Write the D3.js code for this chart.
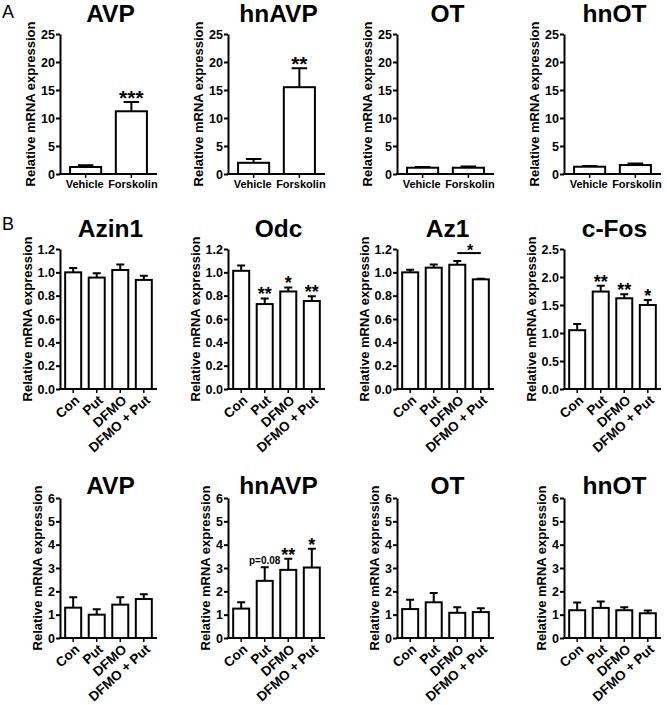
<!DOCTYPE html>
<html>
<head>
<meta charset="utf-8">
<script src="https://cdn.jsdelivr.net/npm/d3@7"></script>
<style>
body { margin: 0; background: #fff; }
svg text { font-family: "Liberation Sans", Arial, sans-serif; fill: #000; }
</style>
</head>
<body>
<svg id="fig" width="667" height="705"></svg>
<script>
// ---- panel A : vehicle vs forskolin ----
var groupsA = ["Vehicle", "Forskolin"];
var genesA = ["AVP", "hnAVP", "OT", "hnOT"];
var meanA = [[1.25, 11.2], [2.0, 15.5], [1.12, 1.12], [1.3, 1.6]];
var errA = [[0.3, 1.65], [0.7, 3.4], [0.15, 0.22], [0.12, 0.28]];
var starsA = [["", "***"], ["", "**"], ["", ""], ["", ""]];
var ticksA = [0, 5, 10, 15, 20, 25];

// ---- panel B : putrescine / DFMO ----
var groupsB = ["Con", "Put", "DFMO", "DFMO + Put"];

var genesB1 = ["Azin1", "Odc", "Az1", "c-Fos"];
var meanB1 = [[1.0, 0.955, 1.02, 0.935], [1.013, 0.728, 0.836, 0.754], [1.0, 1.04, 1.065, 0.94], [1.05, 1.74, 1.62, 1.5]];
var errB1 = [[0.037, 0.037, 0.048, 0.035], [0.045, 0.048, 0.035, 0.04], [0.022, 0.028, 0.032, 0.006], [0.11, 0.105, 0.07, 0.09]];
var starsB1 = [["", "", "", ""], ["", "**", "*", "**"], ["", "", "", ""], ["", "**", "**", "*"]];
var ticksB1 = [[0, 0.2, 0.4, 0.6, 0.8, 1.0, 1.2], [0, 0.2, 0.4, 0.6, 0.8, 1.0, 1.2], [0, 0.2, 0.4, 0.6, 0.8, 1.0, 1.2], [0, 0.5, 1.0, 1.5, 2.0, 2.5]];
// Az1: DFMO vs DFMO + Put comparison bar
var az1Bracket = ["DFMO", "DFMO + Put", 1.165, "*"];

var genesB2 = ["AVP", "hnAVP", "OT", "hnOT"];
var meanB2 = [[1.3, 1.0, 1.43, 1.67], [1.26, 2.45, 2.92, 3.02], [1.24, 1.53, 1.08, 1.11], [1.19, 1.29, 1.19, 1.06]];
var errB2 = [[0.45, 0.23, 0.32, 0.2], [0.27, 0.58, 0.48, 0.8], [0.4, 0.4, 0.24, 0.17], [0.33, 0.27, 0.13, 0.12]];
var starsB2 = [["", "", "", ""], ["", "p=0.08", "**", "*"], ["", "", "", ""], ["", "", "", ""]];
var ticksB2 = [0, 1, 2, 3, 4, 5, 6];

var svg = d3.select("#fig");
var lefts = [60, 228, 397, 564];
var W = 97, H = 140;

function panel(o) {
  var g = svg.append("g").attr("transform", "translate(" + o.left + "," + o.top + ")");
  var x = d3.scaleBand().domain(o.groups).range([0, W]).paddingInner(0.32).paddingOuter(0.22);
  var y = d3.scaleLinear().domain([0, o.ticks[o.ticks.length - 1]]).range([H, 0]);
  var bw = x.bandwidth();
  var data = o.groups.map(function(k, i) { return { k: k, m: o.means[i], e: o.errs[i], s: o.stars[i] }; });

  // error bars (upper only)
  g.selectAll(".err").data(data).enter().append("path")
    .attr("d", function(d) {
      var cx = x(d.k) + bw / 2, top = y(d.m + d.e);
      return "M" + cx + "," + y(d.m) + "V" + top + "M" + (cx - bw / 4) + "," + top + "H" + (cx + bw / 4);
    })
    .attr("fill", "none").attr("stroke", "#000").attr("stroke-width", 2);

  g.selectAll(".bar").data(data).enter().append("rect")
    .attr("x", function(d) { return x(d.k); })
    .attr("y", function(d) { return y(d.m); })
    .attr("width", bw)
    .attr("height", function(d) { return H - y(d.m); })
    .attr("fill", "#fff").attr("stroke", "#000").attr("stroke-width", 2);

  g.selectAll(".star").data(data.filter(function(d) { return d.s; })).enter().append("text")
    .attr("x", function(d) { return x(d.k) + bw / 2; })
    .attr("y", function(d) { return y(d.m + d.e); })
    .attr("dy", function(d) { return d.s[0] == "p" ? -3 : o.starDy; })
    .attr("text-anchor", "middle")
    .attr("font-weight", "bold")
    .attr("font-size", function(d) { return d.s[0] == "p" ? 10 : o.starSize; })
    .text(function(d) { return d.s; });

  var ya = g.append("g")
    .call(d3.axisLeft(y).tickValues(o.ticks).tickFormat(d3.format(o.fmt)).tickSize(4).tickPadding(1).tickSizeOuter(0));
  ya.selectAll("text").attr("font-size", 12.5).attr("font-weight", "bold").attr("font-family", null);
  ya.selectAll("line").attr("stroke-width", 2);
  ya.select(".domain").attr("stroke-width", 2);

  var xa = g.append("g").attr("transform", "translate(0," + H + ")")
    .call(d3.axisBottom(x).tickSize(4).tickPadding(2).tickSizeOuter(0));
  xa.select(".domain").attr("stroke-width", 2).attr("d", "M-1,0H" + W);
  xa.selectAll("line").attr("stroke-width", 1.5);
  var xt = xa.selectAll("text").attr("font-size", o.rotate ? 13.5 : 11).attr("font-weight", "bold").attr("font-family", null);
  if (o.rotate) {
    xt.attr("text-anchor", "end").attr("dy", "0.35em")
      .attr("transform", "translate(4,9) rotate(-42)").attr("y", 0);
  } else {
    xt.attr("dx", function(d, i) { return i ? 1.5 : -1; });
  }

  // y axis label next to the tick labels
  var bb = ya.node().getBBox();
  g.append("text")
    .attr("transform", "rotate(-90)")
    .attr("x", -H / 2).attr("y", bb.x - 6)
    .attr("text-anchor", "middle")
    .attr("font-size", 13).attr("font-weight", "bold")
    .text("Relative mRNA expression");

  g.append("text")
    .attr("x", W / 2 + 2).attr("y", o.titleY - o.top)
    .attr("text-anchor", "middle")
    .attr("font-size", 24.5).attr("font-weight", "bold")
    .text(o.title);

  return { g: g, x: x, y: y };
}

genesA.forEach(function(t, i) {
  panel({ left: lefts[i], top: 34, groups: groupsA, means: meanA[i], errs: errA[i], stars: starsA[i],
    ticks: ticksA, fmt: "d", title: t, titleY: 22, rotate: false, starSize: 21, starDy: 3 });
});

genesB1.forEach(function(t, i) {
  var p = panel({ left: lefts[i], top: 249, groups: groupsB, means: meanB1[i], errs: errB1[i], stars: starsB1[i],
    ticks: ticksB1[i], fmt: ".1f", title: t, titleY: 237, rotate: true, starSize: 18, starDy: 2 });
  if (t == "Az1") {
    var bw = p.x.bandwidth();
    var x1 = p.x(az1Bracket[0]) + bw / 2, x2 = p.x(az1Bracket[1]) + bw / 2, yy = p.y(az1Bracket[2]);
    p.g.append("line").attr("x1", x1).attr("x2", x2).attr("y1", yy).attr("y2", yy)
      .attr("stroke", "#000").attr("stroke-width", 2);
    p.g.append("text").attr("x", (x1 + x2) / 2 + 1).attr("y", yy).attr("dy", 3)
      .attr("text-anchor", "middle").attr("font-size", 16).attr("font-weight", "bold")
      .text(az1Bracket[3]);
  }
});

genesB2.forEach(function(t, i) {
  panel({ left: lefts[i], top: 498, groups: groupsB, means: meanB2[i], errs: errB2[i], stars: starsB2[i],
    ticks: ticksB2, fmt: "d", title: t, titleY: 494, rotate: true, starSize: 18, starDy: 2 });
});

svg.append("text").attr("x", 2).attr("y", 18).attr("font-size", 18).text("A");
svg.append("text").attr("x", 2).attr("y", 230).attr("font-size", 18).text("B");
</script>
</body>
</html>
